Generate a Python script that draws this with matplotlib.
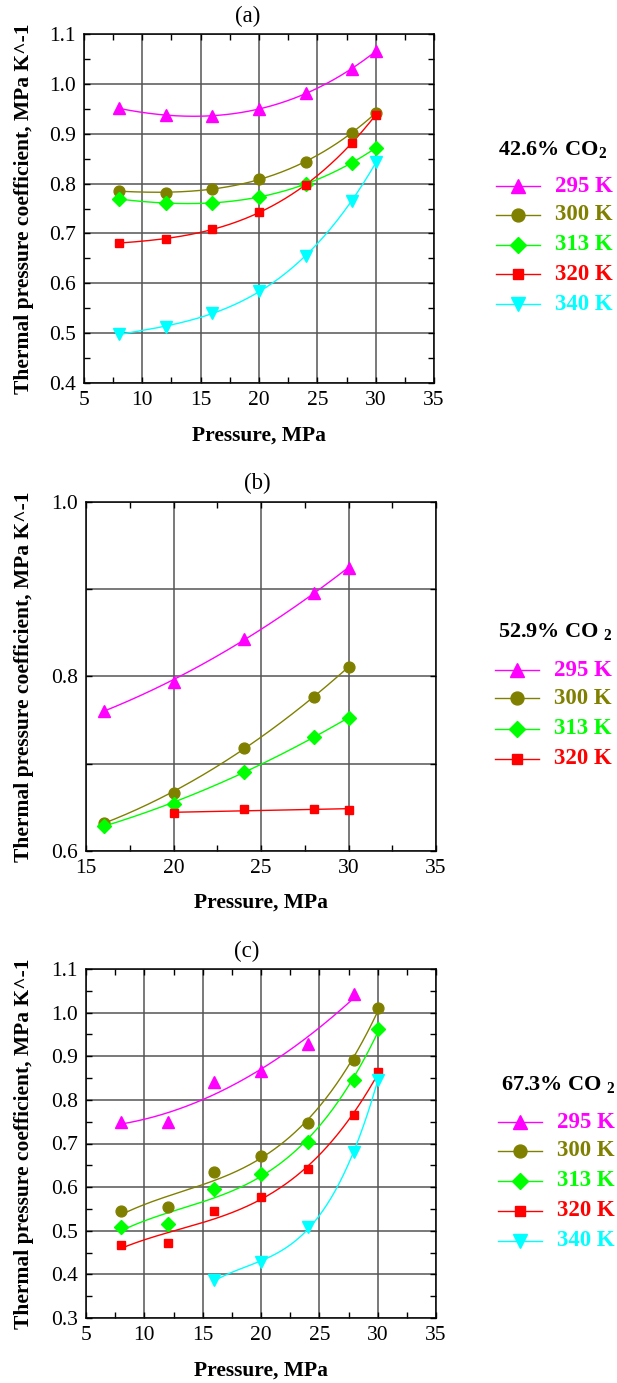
import numpy as np
import matplotlib
matplotlib.use("Agg")
import matplotlib.pyplot as plt
from matplotlib.ticker import MultipleLocator, FuncFormatter
from matplotlib.lines import Line2D

plt.rcParams["font.family"] = ["Liberation Serif", "DejaVu Serif"]
plt.rcParams["mathtext.fontset"] = "custom"
plt.rcParams["mathtext.rm"] = "Liberation Serif"
plt.rcParams["mathtext.bf"] = "Liberation Serif:bold"

# ---- data ---------------------------------------------------------------
temps = ["295 K", "300 K", "313 K", "320 K", "340 K"]
colors = ["#ff00ff", "#808000", "#00ff00", "#ff0000", "#00ffff"]
markers = ["^", "o", "D", "s", "v"]
msizes = [9, 7.8, 6.8, 6.2, 9]

# (a) 42.6 % CO2
p_a = [8, 12, 16, 20, 24, 28, 30]
a_295 = [0.951, 0.937, 0.936, 0.950, 0.981, 1.030, 1.066]
a_300 = [0.785, 0.782, 0.789, 0.809, 0.844, 0.902, 0.942]
a_313 = [0.769, 0.761, 0.761, 0.773, 0.800, 0.841, 0.872]
a_320 = [0.681, 0.689, 0.708, 0.743, 0.797, 0.882, 0.938]
a_340 = [0.498, 0.512, 0.540, 0.585, 0.655, 0.765, 0.843]

# (b) 52.9 % CO2
p_b = [16, 20, 24, 28, 30]
p_b320 = [20, 24, 28, 30]
b_295 = [0.761, 0.794, 0.843, 0.896, 0.924]
b_300 = [0.632, 0.667, 0.718, 0.776, 0.811]
b_313 = [0.629, 0.654, 0.691, 0.731, 0.752]
b_320 = [0.643, 0.648, 0.6486, 0.647]

# (c) 67.3 % CO2
p_c = [8, 12, 16, 20, 24, 28, 30]
p_c295 = [8, 12, 16, 20, 24, 28]
p_c340 = [16, 20, 24, 28, 30]
c_295 = [0.749, 0.749, 0.842, 0.867, 0.927, 1.043]
c_300 = [0.545, 0.554, 0.635, 0.672, 0.747, 0.892, 1.010]
c_313 = [0.508, 0.516, 0.595, 0.630, 0.703, 0.845, 0.962]
c_320 = [0.467, 0.473, 0.545, 0.577, 0.641, 0.765, 0.865]
c_340 = [0.386, 0.428, 0.508, 0.680, 0.846]

panels = [
    dict(tag="(a)", legend="42.6% CO$_{\\mathbf{2}}$",
         series=[(p_a, a_295, 3), (p_a, a_300, 3), (p_a, a_313, 3),
                 (p_a, a_320, 3), (p_a, a_340, 3)],
         xlim=(5, 35), ylim=(0.4, 1.1), ymin=0.05, ylab_every=1),
    dict(tag="(b)", legend="52.9% CO $_{\\mathbf{2}}$",
         series=[(p_b, b_295, 2), (p_b, b_300, 2), (p_b, b_313, 2),
                 (p_b320, b_320, 1)],
         xlim=(15, 35), ylim=(0.6, 1.0), ymin=None, ylab_every=2),
    dict(tag="(c)", legend="67.3% CO $_{\\mathbf{2}}$",
         series=[(p_c295, c_295, 2), (p_c, c_300, 3), (p_c, c_313, 3),
                 (p_c, c_320, 3), (p_c340, c_340, 3)],
         xlim=(5, 35), ylim=(0.3, 1.1), ymin=0.05, ylab_every=1),
]

# ---- layout (pixels) ----------------------------------------------------
W, H = 617, 1383
fig = plt.figure(figsize=(W / 100, H / 100), dpi=100)

boxes = [(84, 34, 434, 383), (86, 502, 436, 851), (86, 969, 436, 1318)]
title_pos = [(248, 16), (257, 483), (247, 951)]
xlabel_y = [436, 903, 1371]
legend_title = [(553, 150), (555, 632), (558, 1085)]
legend_rows = [[186, 215, 245, 274, 304], [670, 698, 729, 759],
               [1122, 1151, 1181, 1211, 1241]]
legend_x = [(496, 540, 555), (495, 539, 554), (498, 542, 557)]


def fx(px):
    return px / W


def fy(py):
    return 1 - py / H


for i, pn in enumerate(panels):
    l, t, r, b = boxes[i]
    ax = fig.add_axes([fx(l), fy(b), (r - l) / W, (b - t) / H])
    ax.set_xlim(*pn["xlim"])
    ax.set_ylim(*pn["ylim"])
    ax.xaxis.set_major_locator(MultipleLocator(5))
    ax.xaxis.set_minor_locator(MultipleLocator(2.5))
    ax.yaxis.set_major_locator(MultipleLocator(0.1))
    if pn["ymin"]:
        ax.yaxis.set_minor_locator(MultipleLocator(pn["ymin"]))
    every = pn["ylab_every"]
    y0 = pn["ylim"][0]

    def yfmt(v, pos, every=every, y0=y0):
        k = int(round((v - y0) / 0.1))
        return f"{v:.1f}" if k % every == 0 else ""

    ax.yaxis.set_major_formatter(FuncFormatter(yfmt))
    ax.grid(True, which="major", color="#555555", lw=1.1)
    ax.tick_params(which="both", direction="in", top=True, right=True,
                   labelsize=15.5, width=1.0, color="black")
    ax.tick_params(which="major", length=4, pad=6)
    ax.tick_params(which="minor", length=4)
    for s in ax.spines.values():
        s.set_linewidth(1.1)
    ax.set_axisbelow(True)

    for j, (px, py, deg) in enumerate(pn["series"]):
        coef = np.polyfit(px, py, deg)
        xs = np.linspace(min(px), max(px), 200)
        ax.plot(xs, np.polyval(coef, xs), color=colors[j], lw=1.0, zorder=3)
        ax.plot(px, py, ls="none", marker=markers[j], ms=msizes[j],
                color=colors[j], mec=colors[j], zorder=4)

    fig.text(fx(title_pos[i][0]), fy(title_pos[i][1]), pn["tag"],
             ha="center", va="center", fontsize=16.5)
    fig.text(fx((l + r) / 2), fy(xlabel_y[i]), "Pressure, MPa",
             ha="center", va="center", fontsize=15.5, fontweight="bold")
    fig.text(fx(24), fy((t + b) / 2), "Thermal pressure coefficient, MPa K^-1",
             ha="center", va="center", rotation=90, fontsize=15.5,
             fontweight="bold")

    # legend
    fig.text(fx(legend_title[i][0]), fy(legend_title[i][1]), pn["legend"],
             ha="center", va="center", fontsize=16, fontweight="bold")
    x1, x2, xt = legend_x[i]
    for j, ry in enumerate(legend_rows[i]):
        fig.add_artist(Line2D([fx(x1), fx(x2)], [fy(ry), fy(ry)],
                              transform=fig.transFigure, color=colors[j],
                              lw=1.0))
        fig.add_artist(Line2D([fx((x1 + x2) / 2)], [fy(ry)],
                              transform=fig.transFigure, ls="none",
                              marker=markers[j], ms=msizes[j] + 1.5,
                              color=colors[j]))
        fig.text(fx(xt), fy(ry), temps[j], ha="left", va="center",
                 fontsize=16.5, fontweight="bold", color=colors[j])

fig.savefig("out.png", dpi=100)
